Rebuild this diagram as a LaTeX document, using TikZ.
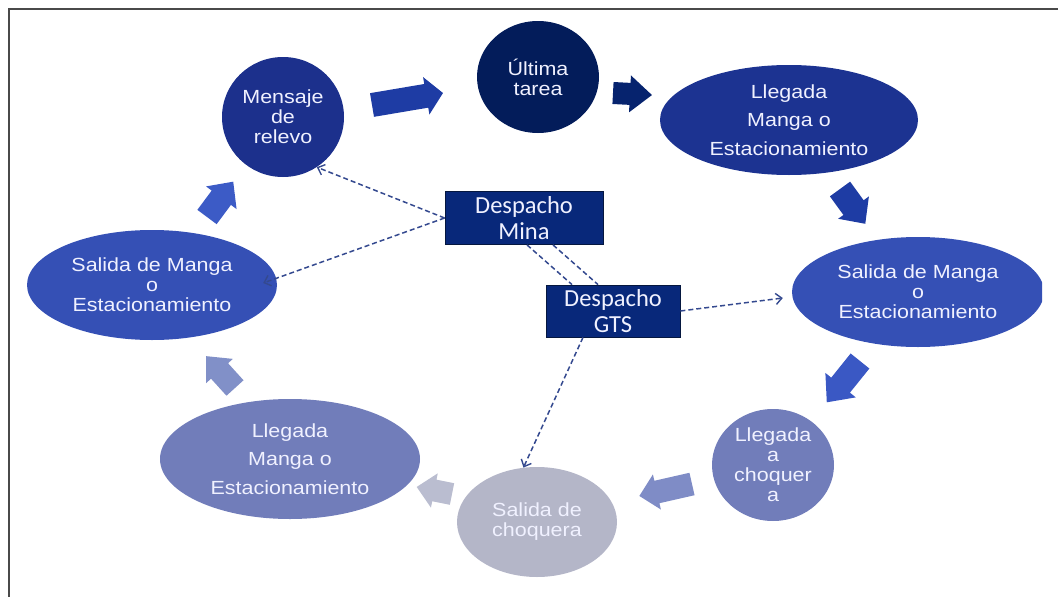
\documentclass[tikz,border=0pt]{standalone}
\usepackage{fontspec}
\setmainfont{Liberation Sans}
\newfontfamily\ovalfont[FakeStretch=1.13]{Liberation Sans}
\newfontfamily\boxfont{Carlito}
\usetikzlibrary{shapes.geometric,arrows.meta,calc}

\definecolor{frameGray}{HTML}{4A4A4A}
\definecolor{cMens}{HTML}{1C308C}
\definecolor{cUlt}{HTML}{031C5A}
\definecolor{cLlegT}{HTML}{1C3391}
\definecolor{cSal}{HTML}{3550B5}
\definecolor{cLlegC}{HTML}{717DBA}
\definecolor{cSch}{HTML}{B4B6C8}
\definecolor{cBox}{HTML}{08287A}
\definecolor{cBoxLine}{HTML}{05173F}
\definecolor{cDash}{HTML}{34498F}
\definecolor{cTxt}{HTML}{F0F1FF}
\definecolor{aOne}{HTML}{1E3CA4}
\definecolor{aTwo}{HTML}{06236E}
\definecolor{aFour}{HTML}{3A58C4}
\definecolor{aFive}{HTML}{7F8CC6}
\definecolor{aSix}{HTML}{BABDD0}
\definecolor{aSeven}{HTML}{8190C8}
\definecolor{aEight}{HTML}{3C5BC6}

% block arrow: colour, tail x, tail y, angle, length, shaft width, head width, head length
\newcommand\fatarrow[8]{%
  \fill[#1,shift={(#2,#3)},rotate=#4]
    (0,{-#6/2}) -- ({#5-#8},{-#6/2}) -- ({#5-#8},{-#7/2}) -- (#5,0)
    -- ({#5-#8},{#7/2}) -- ({#5-#8},{#6/2}) -- (0,{#6/2}) -- cycle;}

\begin{document}
\begin{tikzpicture}[x=1pt,y=-1pt,
  oval/.style={ellipse,inner sep=0pt,text=cTxt,align=center,
    font={\ovalfont\fontsize{19}{20}\selectfont}},
  tallText/.style={font={\ovalfont\fontsize{19}{28.5}\selectfont}},
  dispatch/.style={rectangle,inner sep=0pt,fill=cBox,draw=cBoxLine,line width=0.8pt,
    text=cTxt,align=center,font={\boxfont\fontsize{24.5}{26}\selectfont}},
  dashline/.style={cDash,dashed,dash pattern=on 5pt off 3pt,line width=1.5pt},
  dasharrow/.style={dashline,-{Straight Barb[length=6pt,width=11pt,line width=1.4pt]}}]

\useasboundingbox (0,0) rectangle (1058,597);
\draw[frameGray,line width=2pt] (8.5,597) -- (8.5,8.5) -- (1058,8.5);

% cycle of states
\node[oval,fill=cMens,minimum width=122,minimum height=120] (mensaje) at (283,117) {Mensaje\\de\\relevo};
\node[oval,fill=cUlt,minimum width=122,minimum height=112] (ultima) at (538,77) {Última\\tarea};
\node[oval,tallText,fill=cLlegT,minimum width=258,minimum height=110] (llegT) at (789,120) {Llegada\\Manga o\\Estacionamiento};
\begin{scope}
  \clip (0,0) rectangle (1042,597);
  \node[oval,fill=cSal,minimum width=252,minimum height=110] (salR) at (918,292) {Salida de Manga\\o\\Estacionamiento};
\end{scope}
\node[oval,fill=cLlegC,minimum width=122,minimum height=112] (llegC) at (773,465) {Llegada\\a\\choquer\\a};
\node[oval,fill=cSch,minimum width=160,minimum height=110] (sch) at (537,522) {Salida de\\choquera};
\node[oval,tallText,fill=cLlegC,minimum width=260,minimum height=120] (llegB) at (290,459) {Llegada\\Manga o\\Estacionamiento};
\node[oval,fill=cSal,minimum width=250,minimum height=110] (salL) at (152,285) {Salida de Manga\\o\\Estacionamiento};

% block arrows between the states
\fatarrow{aOne}{372}{105}{9.6}{72}{24}{38}{17}
\fatarrow{aTwo}{613}{93}{-3}{39}{22}{37}{22}
\fatarrow{aOne}{840}{189}{-54}{43}{25}{38}{20}
\fatarrow{aFour}{860}{361}{231.2}{53}{24}{39}{22}
\fatarrow{aFive}{692}{484}{192.8}{54}{23}{36}{18}
\fatarrow{aSix}{452}{494}{168.7}{36}{22}{35}{18}
\fatarrow{aSeven}{235}{388}{132.2}{43}{23}{36}{20}
\fatarrow{aEight}{207}{217}{53.4}{44}{24}{38}{20}

% dispatch centres
\node[dispatch,minimum width=158,minimum height=53] (mina) at (524,218) {Despacho\\Mina};
\node[dispatch,minimum width=134,minimum height=52] (gts) at (613,311) {Despacho\\GTS};

% dispatch messages
\draw[dasharrow] (mina.west) -- (mensaje.-56);
\draw[dasharrow] (mina.west) -- ($(salL.east)+(-14,-2)$);
\draw[dashline] ($(mina.south)+(3,0)$) -- ($(gts.north)+(-41,0)$);
\draw[dashline] ($(mina.south)+(29,0)$) -- ($(gts.north)+(-15,0)$);
\draw[dasharrow] (gts.east) -- ($(salR.west)+(-9,6)$);
\draw[dasharrow] ($(gts.south)+(-30,0)$) -- (sch.104);
\end{tikzpicture}
\end{document}
